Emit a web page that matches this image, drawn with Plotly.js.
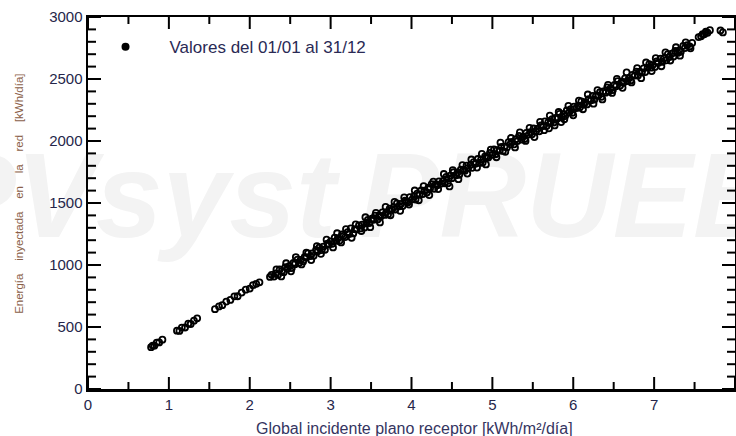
<!DOCTYPE html>
<html>
<head>
<meta charset="utf-8">
<script src="https://cdn.plot.ly/plotly-3.0.1.min.js"></script>
<style>html,body{margin:0;padding:0;background:#fff;}#chart{width:736px;height:436px;}</style>
</head>
<body>
<div id="chart"></div>
<script>
// Global incident irradiation on collector plane [kWh/m²/day]
const ghi = [
0.78,0.80,0.82,0.85,0.88,0.92,
1.10,1.13,1.16,1.20,1.24,1.27,1.31,1.35,
1.57,1.62,1.66,1.71,1.76,1.81,1.85,1.90,1.95,2.00,2.04,2.08,2.12,
2.25,2.27,2.30,2.32,2.35,2.37,2.40,2.42,2.44,2.47,2.49,2.52,2.54,2.56,2.59,2.61,2.63,2.66,2.68,2.70,2.72,2.75,2.77,2.79,2.82,2.84,2.86,2.89,2.91,2.93,2.96,2.98,
3.00,3.02,3.05,3.07,3.09,3.11,3.14,3.16,3.18,3.21,3.23,3.25,3.28,3.30,3.32,3.35,3.37,3.39,3.42,3.44,3.46,3.48,3.51,3.53,3.55,3.58,3.60,3.62,3.64,3.67,3.69,3.71,3.73,3.76,3.78,3.80,3.82,3.85,3.87,3.89,3.92,3.94,3.96,3.98,
4.01,4.03,4.05,4.07,4.10,4.12,4.14,4.16,4.19,4.21,4.23,4.25,4.28,4.30,4.32,4.34,4.37,4.39,4.41,4.43,4.46,4.47,4.48,4.50,4.52,4.55,4.57,4.59,4.61,4.64,4.66,4.68,4.70,4.73,4.75,4.77,4.79,4.82,4.84,4.86,4.88,4.91,4.93,4.95,4.97,
5.00,5.02,5.04,5.06,5.09,5.11,5.13,5.15,5.18,5.20,5.22,5.24,5.27,5.29,5.31,5.33,5.36,5.38,5.40,5.42,5.45,5.47,5.49,5.51,5.54,5.56,5.58,5.60,5.63,5.65,5.67,5.69,5.70,5.72,5.74,5.76,5.78,5.81,5.83,5.85,5.86,5.88,5.90,5.92,5.95,5.97,5.99,
6.01,6.04,6.06,6.08,6.10,6.13,6.15,6.17,6.19,6.22,6.24,6.26,6.28,6.31,6.33,6.35,6.37,6.40,6.42,6.44,6.46,6.49,6.51,6.53,6.55,6.58,6.60,6.62,6.64,6.67,6.69,6.71,6.73,6.76,6.78,6.80,6.82,6.85,6.87,6.89,6.92,6.94,6.96,6.98,
7.01,7.03,7.05,7.08,7.10,7.12,7.15,7.17,7.19,7.22,7.24,7.26,7.29,7.31,7.33,7.36,7.38,7.41,7.44,7.47,
7.55,7.58,7.60,7.62,7.64,7.66,7.69,7.82,7.85,
2.33,2.39,2.45,2.51,2.57,2.64,2.70,2.76,2.83,2.88,2.95,
3.03,3.08,3.13,3.19,3.26,3.31,3.38,3.43,3.49,3.56,3.61,3.68,3.74,3.79,3.86,3.91,3.97,
4.04,4.09,4.15,4.22,4.27,4.33,4.40,4.45,4.51,4.58,4.63,4.69,4.74,4.81,4.87,4.92,4.98,
5.05,5.10,5.16,5.23,5.28,5.34,5.41,5.46,5.52,5.59,5.64,5.71,5.77,5.82,5.89,5.94,
6.00,6.07,6.12,6.18,6.25,6.30,6.36,6.43,6.48,6.54,6.61,6.66,6.72,6.79,6.84,6.90,6.97,
7.02,7.09,7.14,7.20,7.27,7.32,7.39,7.45
];
// Energy injected into the grid [kWh/day]
const energia = [
337,350,349,374,376,398,
470,468,495,496,527,524,551,570,
644,666,676,705,718,747,748,778,801,810,837,848,860,
904,921,907,932,921,964,953,942,983,970,993,975,1016,1007,1043,1017,1042,1029,1066,1060,1094,1072,1093,1074,1122,1110,1141,1120,1148,1123,1172,1166,
1191,1171,1220,1194,1216,1196,1246,1235,1225,1264,1250,1295,1255,1289,1286,1319,1295,1325,1302,1336,1363,1338,1373,1364,1398,1367,1399,1392,1424,1404,1427,1408,1454,1446,1467,1447,1497,1473,1493,1475,1519,1514,1507,1548,
1530,1554,1528,1575,1567,1601,1572,1599,1585,1623,1616,1653,1614,1652,1643,1674,1657,1678,1659,1710,1696,1634,1720,1700,1748,1724,1747,1728,1769,1765,1761,1802,1781,1808,1784,1829,1816,1855,1823,1850,1826,1876,1872,1867,1905,
1888,1932,1893,1926,1923,1953,1920,1955,1948,1991,1973,1992,1973,2014,1999,2041,2012,2036,2016,2065,2052,2072,2054,2101,2079,2100,2078,2125,2120,2158,2121,2150,2102,2145,2177,2149,2186,2183,2219,2153,2194,2218,2201,2247,2230,2256,2227,
2277,2266,2286,2270,2319,2292,2313,2295,2338,2328,2364,2333,2364,2365,2393,2356,2399,2390,2432,2400,2424,2411,2453,2442,2483,2447,2478,2470,2505,2484,2508,2488,2534,2528,2560,2528,2560,2554,2586,2556,2592,2620,2591,2611,
2597,2641,2629,2664,2638,2666,2651,2701,2677,2705,2681,2726,2710,2731,2719,2767,2749,2772,2762,2791,
2838,2844,2861,2860,2881,2873,2894,2891,2876,
964,908,1014,949,1064,1005,1100,1040,1153,1090,1204,
1142,1256,1182,1289,1219,1327,1274,1385,1305,1421,1343,1468,1401,1509,1437,1545,1488,
1601,1522,1636,1564,1672,1612,1734,1659,1765,1692,1806,1737,1851,1786,1896,1811,1930,
1869,1987,1913,2024,1948,2069,2001,2106,2032,2155,2087,2205,2126,2234,2175,2283,
2207,2326,2256,2375,2301,2411,2335,2452,2388,2501,2429,2553,2472,2587,2507,2633,2564,
2668,2603,2715,2649,2756,2688,2795,2747
];
// Tick positions
const xMajorTicks = [0, 1, 2, 3, 4, 5, 6, 7, 8];
const xMinorTicks = [0.5, 1.5, 2.5, 3.5, 4.5, 5.5, 6.5, 7.5];
const yMajorTicks = [0, 500, 1000, 1500, 2000, 2500, 3000];
const yMinorTicks = [100, 200, 300, 400, 600, 700, 800, 900, 1100, 1200, 1300, 1400, 1600, 1700, 1800, 1900,
                     2100, 2200, 2300, 2400, 2600, 2700, 2800, 2900];

const xTitle = 'Global incidente plano receptor [kWh/m²/día]';
const yWords = ['Energía','inyectada','en','la','red','[kWh/día]'];
const legendName = 'Valores del 01/01 al 31/12';
const watermarkA = 'PVsyst';
const watermarkB = 'PRUEBA';

const FONT = 'Liberation Sans, Arial, Helvetica, sans-serif';
const TICKCOL = '#26264a';
const X_MAX = 8, Y_MAX = 3000;

const traces = [
  {
    x: ghi, y: energia, type: 'scatter', mode: 'markers', showlegend: false,
    marker: {symbol: 'circle-open', size: 6, color: '#000', line: {width: 1.8, color: '#000'}},
    hoverinfo: 'x+y'
  },
  {
    x: [null], y: [null], type: 'scatter', mode: 'markers', name: legendName, showlegend: true,
    marker: {symbol: 'circle', size: 8, color: '#000'}
  }
];

const wmFont = {family: FONT, size: 120, color: '#f3f3f3', weight: 'bold', style: 'italic'};
const tickLine = {color: '#000', width: 2};

// inside tick marks (bottom/top and left/right), placed through the axes' own scales
function xTickShapes(vals, len) {
  const s = [];
  vals.forEach(v => {
    s.push({type: 'line', xref: 'x', yref: 'y', x0: v, x1: v, ysizemode: 'pixel', yanchor: 0, y0: 0, y1: len, line: tickLine});
    s.push({type: 'line', xref: 'x', yref: 'y', x0: v, x1: v, ysizemode: 'pixel', yanchor: Y_MAX, y0: 0, y1: -len, line: tickLine});
  });
  return s;
}
function yTickShapes(vals, len) {
  const s = [];
  vals.forEach(v => {
    s.push({type: 'line', xref: 'x', yref: 'y', y0: v, y1: v, xsizemode: 'pixel', xanchor: 0, x0: 0, x1: len, line: tickLine});
    s.push({type: 'line', xref: 'x', yref: 'y', y0: v, y1: v, xsizemode: 'pixel', xanchor: X_MAX, x0: 0, x1: -len, line: tickLine});
  });
  return s;
}

const shapes = [
  {type: 'rect', xref: 'paper', yref: 'paper', x0: -0.24, x1: 0.4, y0: 0.4, y1: 0.7,
   line: {width: 0}, fillcolor: 'rgba(0,0,0,0)', layer: 'below',
   label: {text: watermarkA, textposition: 'middle left', padding: 0, font: wmFont}},
  {type: 'rect', xref: 'paper', yref: 'paper', x0: 0.415, x1: 1.3, y0: 0.4, y1: 0.7,
   line: {width: 0}, fillcolor: 'rgba(0,0,0,0)', layer: 'below',
   label: {text: watermarkB, textposition: 'middle left', padding: 0, font: wmFont}}
].concat(xTickShapes(xMajorTicks, 12), xTickShapes(xMinorTicks, 7),
         yTickShapes(yMajorTicks, 13), yTickShapes(yMinorTicks, 8));

const layout = {
  width: 736, height: 436,
  margin: {l: 88, r: 1, t: 17, b: 47},
  paper_bgcolor: '#fff', plot_bgcolor: 'rgba(0,0,0,0)',
  font: {family: FONT},
  xaxis: {
    range: [0, X_MAX], tickmode: 'array', tickvals: xMajorTicks, ticks: '',
    showline: true, linewidth: 2.5, linecolor: '#000', mirror: true,
    showgrid: false, zeroline: false,
    tickfont: {family: FONT, size: 15, color: TICKCOL}
  },
  yaxis: {
    range: [0, Y_MAX], tickmode: 'array', tickvals: yMajorTicks, ticks: '',
    showline: true, linewidth: 2.5, linecolor: '#000', mirror: true,
    showgrid: false, zeroline: false,
    tickfont: {family: FONT, size: 15, color: TICKCOL}
  },
  showlegend: true,
  legend: {
    x: -0.01, y: 0.919, xanchor: 'left', yanchor: 'middle',
    bgcolor: 'rgba(0,0,0,0)', borderwidth: 0, itemwidth: 78,
    font: {family: FONT, size: 17, color: '#2a2a55'}
  },
  shapes: shapes,
  annotations: [
    {text: xTitle, xref: 'paper', yref: 'paper', x: 0.504, y: -0.1075, xanchor: 'center', yanchor: 'middle',
     showarrow: false, font: {family: FONT, size: 16, color: '#35355f'}},
    {text: yWords.join('\u00a0\u00a0\u00a0\u00a0'), xref: 'paper', yref: 'paper', x: -0.107, y: 0.524, textangle: -90,
     xanchor: 'center', yanchor: 'middle', showarrow: false, font: {family: FONT, size: 11.5, color: '#8a6048'}}
  ]
};

Plotly.newPlot('chart', traces, layout, {displayModeBar: false, staticPlot: true});
</script>
</body>
</html>
